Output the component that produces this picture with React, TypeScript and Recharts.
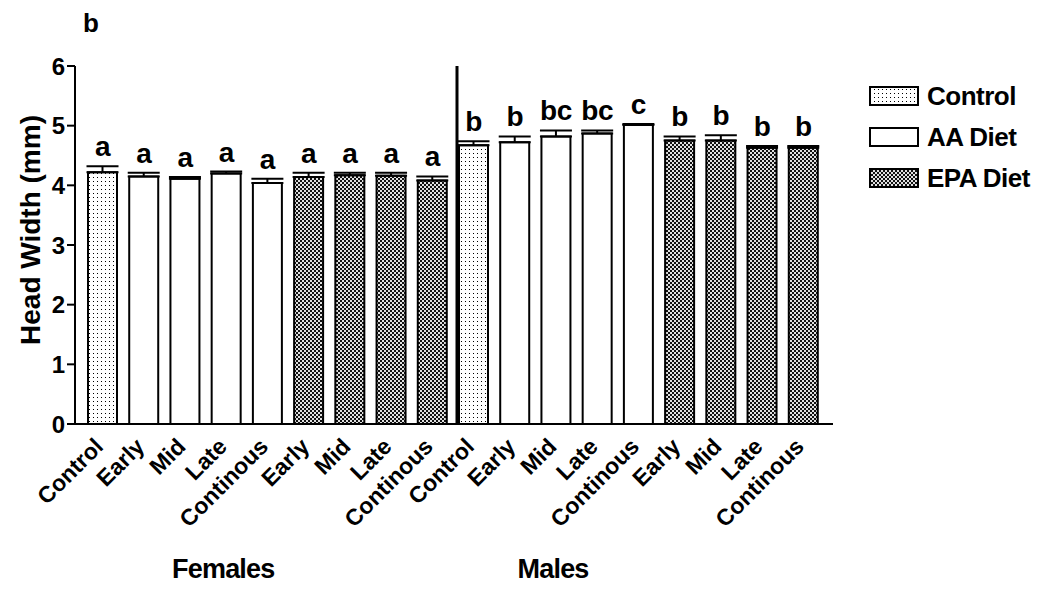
import React from 'react';
import {
  BarChart, Bar, XAxis, YAxis, Cell, ErrorBar, LabelList, ReferenceLine,
} from 'recharts';

const sexes = ['Females', 'Males'];
const treatments = ['Control', 'Early', 'Mid', 'Late', 'Continous', 'Early', 'Mid', 'Late', 'Continous'];
const treatmentDiet = ['Control', 'AA Diet', 'AA Diet', 'AA Diet', 'AA Diet', 'EPA Diet', 'EPA Diet', 'EPA Diet', 'EPA Diet'];
const diets = ['Control', 'AA Diet', 'EPA Diet'];

const femaleMeans = [4.22, 4.15, 4.11, 4.20, 4.04, 4.14, 4.17, 4.16, 4.08];
const femaleErrors = [0.10, 0.06, 0.03, 0.03, 0.07, 0.07, 0.04, 0.05, 0.07];
const femaleLetters = ['a', 'a', 'a', 'a', 'a', 'a', 'a', 'a', 'a'];

const maleMeans = [4.67, 4.72, 4.82, 4.87, 5.01, 4.75, 4.75, 4.63, 4.63];
const maleErrors = [0.07, 0.10, 0.10, 0.05, 0.02, 0.07, 0.09, 0.03, 0.03];
const maleLetters = ['b', 'b', 'bc', 'bc', 'c', 'b', 'b', 'b', 'b'];

const yTicks = [0, 1, 2, 3, 4, 5, 6];

const dietFill: Record<string, string> = {
  'Control': 'url(#patDots)',
  'AA Diet': '#ffffff',
  'EPA Diet': 'url(#patChecks)',
};

const FONT = '"Liberation Sans", Arial, Helvetica, sans-serif';

const data = [
  ...treatments.map((t, i) => ({
    id: `F-${i}`, sex: sexes[0], label: t, diet: treatmentDiet[i],
    mean: femaleMeans[i], err: [0, femaleErrors[i]], letter: femaleLetters[i],
  })),
  ...treatments.map((t, i) => ({
    id: `M-${i}`, sex: sexes[1], label: t, diet: treatmentDiet[i],
    mean: maleMeans[i], err: [0, maleErrors[i]], letter: maleLetters[i],
  })),
];

const Patterns = () => (
  <svg width={0} height={0} style={{ position: 'absolute' }}>
    <defs>
      <pattern id="patDots" width={4} height={4} patternUnits="userSpaceOnUse">
        <rect width={4} height={4} fill="#ffffff" />
        <rect x={1} y={1} width={1} height={1} fill="#000000" />
      </pattern>
      <pattern id="patChecks" width={4} height={4} patternUnits="userSpaceOnUse">
        <rect width={4} height={4} fill="#e0e0e0" />
        <rect x={0} y={0} width={2} height={2} fill="#111111" />
        <rect x={2} y={2} width={2} height={2} fill="#111111" />
      </pattern>
    </defs>
  </svg>
);

const renderTick = (props: any) => {
  const { x, y, payload, index } = props;
  const row = data[index] || data.find(d => d.id === payload.value);
  return (
    <g>
      <text
        transform={`translate(${x + 2},${y + 22}) rotate(-45)`}
        textAnchor="end"
        fontFamily={FONT}
        fontWeight="bold"
        fontSize={23}
        fill="#000"
      >
        {row ? row.label : ''}
      </text>
      {(index === 3 || index === 11) && (
        <text x={x - 3} y={y + 152} textAnchor="middle" fontFamily={FONT} fontWeight="bold" fontSize={27} letterSpacing={-0.8} fill="#000">
          {index === 3 ? sexes[0] : sexes[1]}
        </text>
      )}
    </g>
  );
};

const renderLetter = (props: any) => {
  const { x, y, width, height, index } = props;
  const row = data[index];
  if (!row) return null;
  const errPx = (row.err[1] / row.mean) * height;
  return (
    <text
      x={x + width / 2}
      y={y - errPx - 10}
      textAnchor="middle"
      fontFamily={FONT}
      fontWeight="bold"
      fontSize={28}
      letterSpacing={-0.5}
      fill="#000"
    >
      {row.letter}
    </text>
  );
};

const YLabel = (props: any) => {
  const { viewBox } = props;
  const cx = viewBox.x + 30;
  const cy = viewBox.y + viewBox.height / 2 - 15;
  return (
    <text
      transform={`translate(${cx},${cy}) rotate(-90)`}
      textAnchor="middle"
      dominantBaseline="central"
      fontFamily={FONT}
      fontWeight="bold"
      fontSize={28}
      fill="#000"
    >
      Head Width (mm)
    </text>
  );
};

// divider between the female and male groups, a few px right of the band start
const Divider = (props: any) => {
  const { x1, y1, x2, y2 } = props;
  return <line x1={x1 + 4} y1={y1} x2={x2 + 4} y2={y2} stroke="#000" strokeWidth={3} />;
};

const DietLegend = () => (
  <svg width={176} height={140} style={{ position: 'absolute', left: 869, top: 76 }}>
    {diets.map((d, i) => (
      <g key={d}>
        <rect x={1} y={i * 41 + 11} width={48} height={18} fill={dietFill[d]} stroke="#000" strokeWidth={2} />
        <text x={58} y={i * 41 + 29} fontFamily={FONT} fontWeight="bold" fontSize={26} letterSpacing={-0.5} fill="#000">
          {d}
        </text>
      </g>
    ))}
  </svg>
);

export default function App() {
  return (
    <div style={{ position: 'relative', width: 1047, height: 590, background: '#fff', overflow: 'hidden' }}>
      <style>{'body{margin:0;}'}</style>
      <Patterns />
      <div style={{ position: 'absolute', left: 83, top: 8, fontFamily: FONT, fontWeight: 'bold', fontSize: 26 }}>b</div>
      <BarChart
        width={1047}
        height={590}
        data={data}
        margin={{ top: 66, right: 214, bottom: 0, left: 0 }}
      >
        <XAxis
          dataKey="id"
          interval={0}
          height={166}
          padding={{ left: 7, right: 9 }}
          axisLine={{ stroke: '#000', strokeWidth: 2 }}
          tickLine={false}
          tickSize={0}
          tick={renderTick}
        />
        <YAxis
          domain={[0, 6]}
          ticks={yTicks}
          width={75}
          axisLine={{ stroke: '#000', strokeWidth: 2 }}
          tickLine={{ stroke: '#000', strokeWidth: 2 }}
          tickSize={8}
          tickMargin={2}
          tick={{ fontFamily: FONT, fontWeight: 'bold', fontSize: 24, fill: '#000' }}
          label={<YLabel />}
        />
        <ReferenceLine x="M-0" position="start" ifOverflow="visible" shape={<Divider />} />
        <Bar dataKey="mean" barSize={29} stroke="#000" strokeWidth={2} isAnimationActive={false}>
          {data.map((d) => (
            <Cell key={d.id} fill={dietFill[d.diet]} />
          ))}
          <ErrorBar dataKey="err" width={16} stroke="#000" strokeWidth={2} direction="y" isAnimationActive={false} />
          <LabelList dataKey="letter" content={renderLetter} />
        </Bar>
      </BarChart>
      <DietLegend />
    </div>
  );
}
